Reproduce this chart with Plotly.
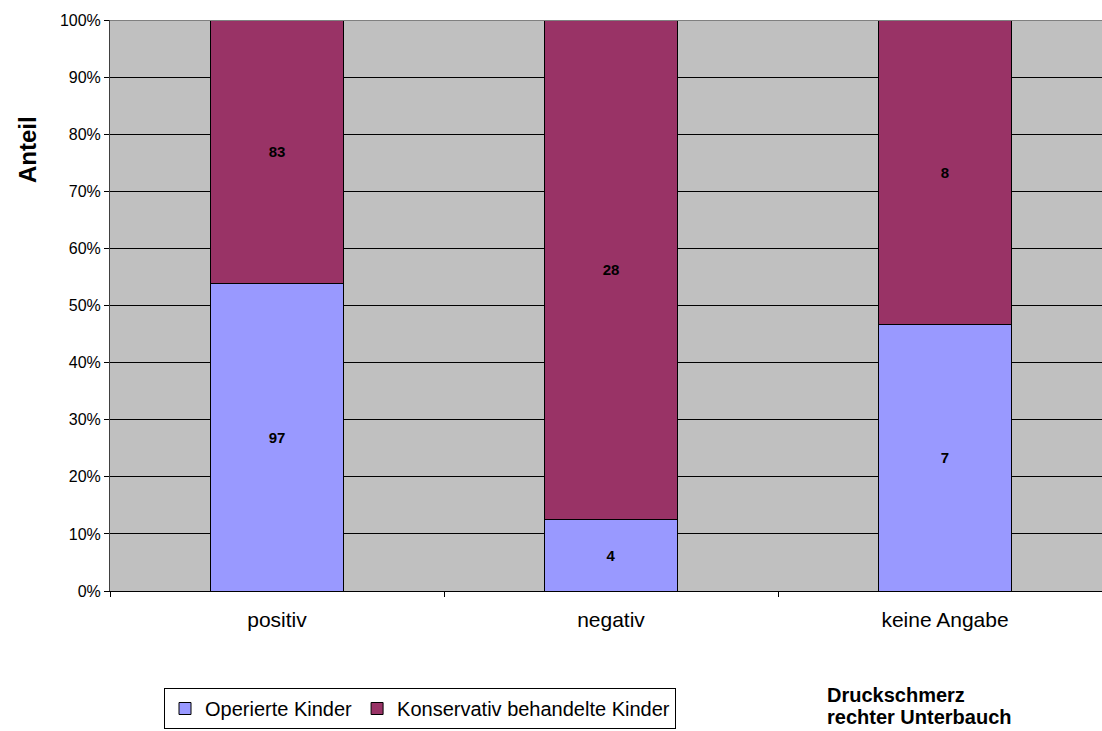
import plotly.graph_objects as go

categories = ["positiv", "negativ", "keine Angabe"]
operiert = [97, 4, 7]
konservativ = [83, 28, 8]
y_ticks = [0, 10, 20, 30, 40, 50, 60, 70, 80, 90, 100]

FONT = "Liberation Sans, Arial, sans-serif"

fig = go.Figure()
fig.add_trace(go.Bar(
    x=categories, y=operiert, name="Operierte Kinder",
    marker=dict(color="#9999FF", line=dict(color="#000000", width=1)),
    text=[f"<b>{v}</b>" for v in operiert], textposition="inside",
    insidetextanchor="middle", textfont=dict(color="black", size=15, family=FONT),
    width=0.4,
))
fig.add_trace(go.Bar(
    x=categories, y=konservativ, name="Konservativ behandelte Kinder",
    marker=dict(color="#993366", line=dict(color="#000000", width=1)),
    text=[f"<b>{v}</b>" for v in konservativ], textposition="inside",
    insidetextanchor="middle", textfont=dict(color="black", size=15, family=FONT),
    width=0.4,
))

PW = 992
PH = 571

fig.update_layout(
    barmode="stack", barnorm="percent",
    width=1102, height=731,
    margin=dict(l=110, r=0, t=20, b=140),
    paper_bgcolor="white", plot_bgcolor="#C0C0C0",
    font=dict(family=FONT, color="black", size=16),
    uniformtext=dict(minsize=15, mode="show"),
    showlegend=True,
    legend=dict(
        orientation="h", x=(164 - 110) / PW, y=(591 - 688) / PH, xanchor="left", yanchor="top",
        bordercolor="black", borderwidth=1, bgcolor="white",
        font=dict(size=20, family=FONT), traceorder="normal",
        itemwidth=30,
    ),
)
fig.update_xaxes(
    range=[-0.5, 2.47], showgrid=False, showline=True, linecolor="black", linewidth=1,
    ticks="outside", tickson="boundaries", ticklen=5, tickcolor="black",
    tickfont=dict(size=21), ticklabelstandoff=10, fixedrange=True,
)
fig.update_yaxes(
    range=[0, 100], tickvals=y_ticks, ticktext=[f"{v}%" for v in y_ticks],
    showgrid=True, gridcolor="black", gridwidth=1,
    showline=True, linecolor="#404040", linewidth=1,
    ticks="outside", ticklen=5, tickcolor="black", tickfont=dict(size=16),
    zeroline=False,
)
fig.add_shape(type="line", xref="paper", yref="y", x0=0, x1=1, y0=100, y1=100,
              line=dict(color="#808080", width=2), layer="above")
fig.add_annotation(text="<b>Anteil</b>", xref="paper", yref="paper",
                   x=(28 - 110) / PW, y=(591 - 150) / PH, showarrow=False, textangle=-90,
                   xanchor="center", yanchor="middle",
                   font=dict(size=24, family=FONT))
fig.add_annotation(text="<b>Druckschmerz</b>", xref="paper", yref="paper",
                   x=(825 - 110) / PW, y=(591 - 695) / PH, xanchor="left", yanchor="middle",
                   showarrow=False, font=dict(size=20, family=FONT))
fig.add_annotation(text="<b>rechter Unterbauch</b>", xref="paper", yref="paper",
                   x=(825 - 110) / PW, y=(591 - 717) / PH, xanchor="left", yanchor="middle",
                   showarrow=False, font=dict(size=20, family=FONT))

fig.write_html("out.html")
